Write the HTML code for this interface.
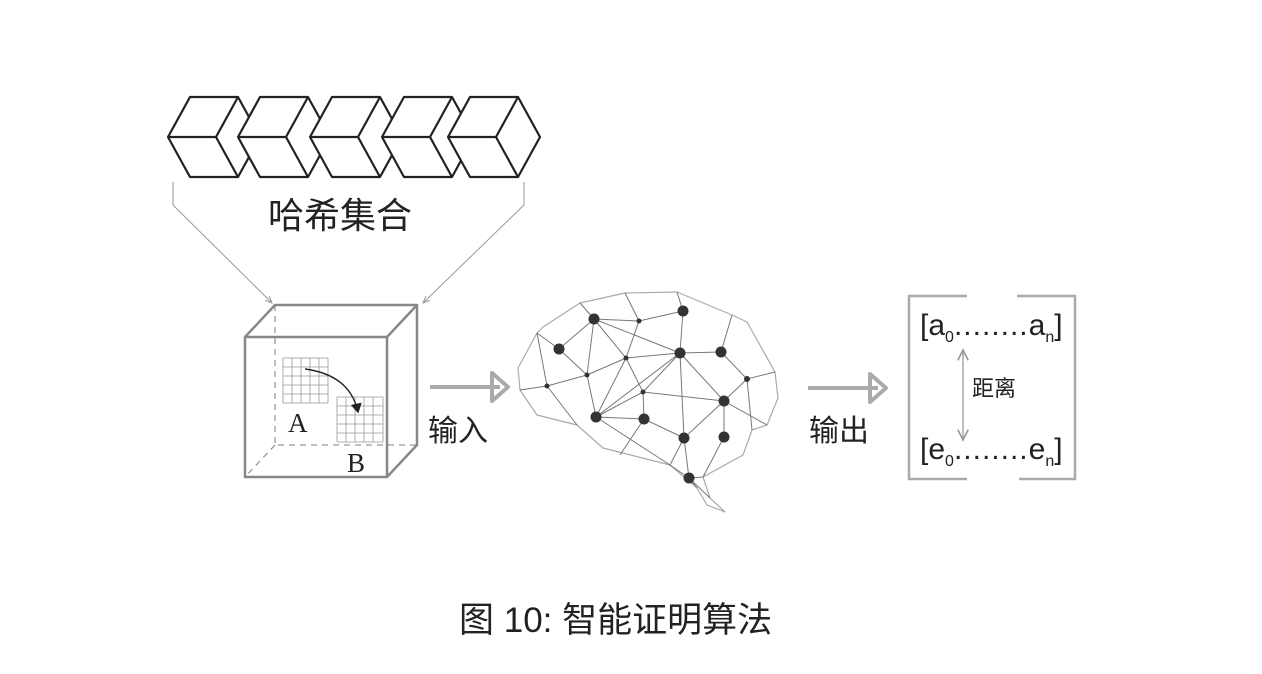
<!DOCTYPE html>
<html><head><meta charset="utf-8"><style>
html,body{margin:0;padding:0;background:#fff;width:1262px;height:674px;overflow:hidden}
svg{display:block}
.cj{font-family:"Liberation Sans","Noto Sans CJK SC",sans-serif}
</style></head><body>
<svg width="1262" height="674" viewBox="0 0 1262 674" xmlns="http://www.w3.org/2000/svg">
<defs>
<marker id="sa" markerWidth="8" markerHeight="8" refX="7" refY="4" orient="auto"><path d="M0,1 L7,4 L0,7" fill="none" stroke="#999" stroke-width="1"/></marker>
<marker id="ba" markerWidth="8" markerHeight="8" refX="6" refY="4" orient="auto"><path d="M0,0 L7,4 L0,8 Z" fill="#222"/></marker>
<marker id="ga" markerWidth="10" markerHeight="10" refX="8" refY="5" orient="auto"><path d="M0,1 L8,5 L0,9" fill="none" stroke="#999" stroke-width="1.3"/></marker>
<marker id="gs" markerWidth="10" markerHeight="10" refX="2" refY="5" orient="auto"><path d="M10,1 L2,5 L10,9" fill="none" stroke="#999" stroke-width="1.3"/></marker>
</defs>
<!-- cubes -->
<g fill="#fff" stroke="#222" stroke-width="2.2" stroke-linejoin="round">
<g transform="translate(168,0)"><polygon points="0,137 22,97 70,97 92,137 70,177 22,177"/><path fill="none" d="M0,137 L48,137 L70,97 M48,137 L70,177"/></g>
<g transform="translate(238,0)"><polygon points="0,137 22,97 70,97 92,137 70,177 22,177"/><path fill="none" d="M0,137 L48,137 L70,97 M48,137 L70,177"/></g>
<g transform="translate(310,0)"><polygon points="0,137 22,97 70,97 92,137 70,177 22,177"/><path fill="none" d="M0,137 L48,137 L70,97 M48,137 L70,177"/></g>
<g transform="translate(382,0)"><polygon points="0,137 22,97 70,97 92,137 70,177 22,177"/><path fill="none" d="M0,137 L48,137 L70,97 M48,137 L70,177"/></g>
<g transform="translate(448,0)"><polygon points="0,137 22,97 70,97 92,137 70,177 22,177"/><path fill="none" d="M0,137 L48,137 L70,97 M48,137 L70,177"/></g>
</g>
<text x="340" y="228" text-anchor="middle" class="cj" font-size="36" fill="#222">哈希集合</text>
<!-- bracket lines -->
<path d="M173,182 L173,205 L272,303" fill="none" stroke="#999" stroke-width="1" marker-end="url(#sa)"/>
<path d="M524,182 L524,205 L423,303" fill="none" stroke="#999" stroke-width="1" marker-end="url(#sa)"/>
<!-- box -->
<g fill="none" stroke="#999" stroke-width="1.3" stroke-dasharray="6,5">
<path d="M275,305 L275,445 L417,445 M275,445 L245,477"/>
</g>
<g fill="none" stroke="#888" stroke-width="2.5" stroke-linejoin="round">
<rect x="245" y="337" width="142" height="140"/>
<path d="M245,337 L275,305 L417,305 L387,337 M417,305 L417,445 L387,477"/>
</g>
<!-- grids -->
<g stroke="#999" stroke-width="0.8" fill="none">
<path d="M283,358h45M283,367h45M283,376h45M283,385h45M283,394h45M283,403h45M283,358v45M292,358v45M301,358v45M310,358v45M319,358v45M328,358v45"/>
<path d="M337,397h46M337,406h46M337,415h46M337,424h46M337,433h46M337,442h46M337,397v45M346,397v45M355,397v45M364,397v45M373,397v45M383,397v45"/>
</g>
<path d="M305,369 Q350,375 358,412" fill="none" stroke="#222" stroke-width="1.4" marker-end="url(#ba)"/>
<text x="288" y="432" font-family="'Liberation Serif',serif" font-size="27" fill="#222">A</text>
<text x="347" y="472" font-family="'Liberation Serif',serif" font-size="27" fill="#222">B</text>
<!-- input arrow -->
<path d="M430,387 L500,387" stroke="#aaa" stroke-width="4"/>
<path d="M492,373 L508,387 L492,401 Z" fill="none" stroke="#aaa" stroke-width="4" stroke-linejoin="round"/>
<text x="428" y="441" class="cj" font-size="30" fill="#222">输入</text>
<!-- brain -->
<polygon points="520,390 518,368 537,333 543,327 580,303 625,293 677,292 732,315 747,322 775,372 778,398 767,425 752,430 743,455 703,477 710,498 725,512 707,505 697,488 670,465 603,448 577,425 537,415" fill="none" stroke="#aaa" stroke-width="1.2" stroke-linejoin="round"/>
<g stroke="#777" stroke-width="1" fill="none">
<path d="M594,319 L639,321 L683,311 M594,319 L559,349 L587,375 L547,386 L520,390 M594,319 L587,375 M594,319 L626,358 L587,375 M594,319 L680,353 M639,321 L626,358 M639,321 L625,293 M683,311 L680,353 L721,352 L747,379 L775,372 M683,311 L677,292 M721,352 L732,315 M626,358 L680,353 M626,358 L643,392 L680,353 M626,358 L596,417 L587,375 M547,386 L537,333 M547,386 L577,425 M559,349 L537,333 M580,303 L594,319 M596,417 L643,392 L724,401 L747,379 L752,430 M596,417 L644,419 L684,438 L724,401 M596,417 L680,353 M643,392 L644,419 M680,353 L684,438 M680,353 L724,401 M724,401 L724,437 L703,477 M684,438 L689,478 L697,488 M596,417 L670,465 L689,478 M644,419 L620,455 M684,438 L670,465 M689,478 L703,477 M689,478 L710,498 M724,401 L767,425 M747,379 L752,430"/>
</g>
<g fill="#333">
<circle cx="594" cy="319" r="5.5"/><circle cx="639" cy="321" r="2.5"/><circle cx="683" cy="311" r="5.5"/>
<circle cx="559" cy="349" r="5.5"/><circle cx="626" cy="358" r="2.5"/><circle cx="680" cy="353" r="5.5"/>
<circle cx="721" cy="352" r="5.5"/><circle cx="587" cy="375" r="2.5"/><circle cx="547" cy="386" r="2.5"/>
<circle cx="747" cy="379" r="3"/><circle cx="643" cy="392" r="2.5"/><circle cx="724" cy="401" r="5.5"/>
<circle cx="596" cy="417" r="5.5"/><circle cx="644" cy="419" r="5.5"/><circle cx="684" cy="438" r="5.5"/>
<circle cx="724" cy="437" r="5.5"/><circle cx="689" cy="478" r="5.5"/>
</g>
<!-- output arrow -->
<path d="M808,388 L878,388" stroke="#aaa" stroke-width="4"/>
<path d="M870,374 L886,388 L870,402 Z" fill="none" stroke="#aaa" stroke-width="4" stroke-linejoin="round"/>
<text x="809" y="441" class="cj" font-size="30" fill="#222">输出</text>
<!-- output box -->
<g fill="none" stroke="#aaa" stroke-width="2.5">
<path d="M967,296 L909,296 L909,479 L967,479"/>
<path d="M1017,296 L1075,296 L1075,479 L1019,479"/>
</g>
<g font-family="Liberation Sans,sans-serif" fill="#222">
<text x="920" y="335" font-size="30">[a<tspan font-size="16" dy="7">0</tspan><tspan dy="-7" letter-spacing="1">........</tspan>a<tspan font-size="16" dy="7">n</tspan><tspan dy="-7">]</tspan></text>
<text x="920" y="459" font-size="30">[e<tspan font-size="16" dy="7">0</tspan><tspan dy="-7" letter-spacing="1">........</tspan>e<tspan font-size="16" dy="7">n</tspan><tspan dy="-7">]</tspan></text>
</g>
<path d="M963,350 L963,440" stroke="#999" stroke-width="1.3" marker-start="url(#gs)" marker-end="url(#ga)"/>
<text x="972" y="396" class="cj" font-size="22" fill="#222">距离</text>
<!-- caption -->
<text x="459" y="632" class="cj" font-size="35" fill="#222">图 10: 智能证明算法</text>
</svg>
</body></html>
